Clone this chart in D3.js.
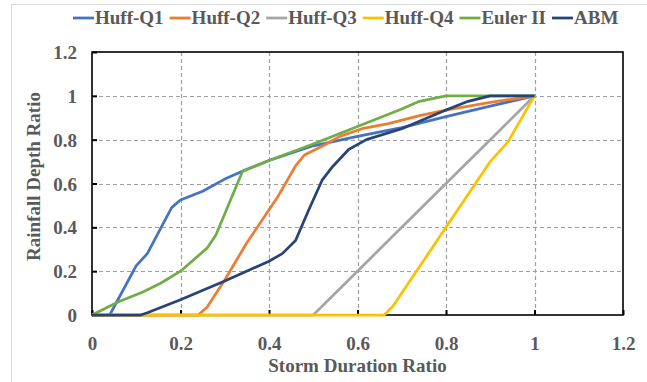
<!DOCTYPE html>
<html>
<head>
<meta charset="utf-8">
<script src="https://cdn.jsdelivr.net/npm/d3@7"></script>
<style>
  body { margin: 0; background: #fff; }
  text { font-family: "Liberation Serif", "Times New Roman", serif; font-weight: bold; fill: #595959; }
</style>
</head>
<body>
<div class="canvas"></div>
<script>
// series names + colours
const seriesNames = ['Huff-Q1', 'Huff-Q2', 'Huff-Q3', 'Huff-Q4', 'Euler II', 'ABM'];
const seriesColors = ['#4472C4', '#ED7D31', '#A5A5A5', '#FFC000', '#70AD47', '#264478'];

// values (x = storm duration ratio, y = rainfall depth ratio)
const huffQ1X = [0, 0.04, 0.1, 0.125, 0.18, 0.2, 0.25, 0.3, 0.35, 0.4, 0.5, 0.6, 0.7, 0.8, 0.9, 1.0];
const huffQ1Y = [0, 0, 0.225, 0.28, 0.49, 0.525, 0.565, 0.62, 0.665, 0.705, 0.772, 0.815, 0.855, 0.905, 0.953, 1.0];

const huffQ2X = [0, 0.24, 0.26, 0.3, 0.35, 0.4, 0.42, 0.46, 0.48, 0.52, 0.56, 0.61, 0.67, 0.74, 0.8, 0.9, 1.0];
const huffQ2Y = [0, 0, 0.035, 0.16, 0.33, 0.48, 0.54, 0.68, 0.73, 0.77, 0.815, 0.85, 0.873, 0.91, 0.935, 0.97, 1.0];

const huffQ3X = [0, 0.5, 0.6, 0.7, 0.8, 0.9, 1.0];
const huffQ3Y = [0, 0, 0.2, 0.4, 0.6, 0.8, 1.0];

const huffQ4X = [0, 0.66, 0.68, 0.8, 0.9, 0.94, 1.0];
const huffQ4Y = [0, 0, 0.04, 0.4, 0.7, 0.79, 1.0];

const eulerX = [0, 0.06, 0.115, 0.155, 0.2, 0.26, 0.28, 0.34, 0.4, 0.5, 0.6, 0.7, 0.74, 0.8, 0.9, 1.0];
const eulerY = [0, 0.06, 0.105, 0.145, 0.2, 0.305, 0.365, 0.655, 0.705, 0.78, 0.86, 0.94, 0.975, 1.0, 1.0, 1.0];

const abmX = [0, 0.11, 0.125, 0.2, 0.3, 0.4, 0.43, 0.46, 0.49, 0.52, 0.545, 0.58, 0.62, 0.7, 0.8, 0.85, 0.9, 1.0];
const abmY = [0, 0, 0.01, 0.07, 0.155, 0.245, 0.28, 0.34, 0.48, 0.615, 0.68, 0.755, 0.8, 0.85, 0.935, 0.975, 1.0, 1.0];

const xTicks = [0, 0.2, 0.4, 0.6, 0.8, 1, 1.2];
const yTicks = [0, 0.2, 0.4, 0.6, 0.8, 1, 1.2];

const allX = [huffQ1X, huffQ2X, huffQ3X, huffQ4X, eulerX, abmX];
const allY = [huffQ1Y, huffQ2Y, huffQ3Y, huffQ4Y, eulerY, abmY];
const series = seriesNames.map((name, i) => ({
	name: name,
	color: seriesColors[i],
	points: allX[i].map((x, j) => ({ x: x, y: allY[i][j] }))
}));

const width = 647;
const height = 382;

const svg = d3.select('.canvas')
	.append('svg')
	.attr('width', width)
	.attr('height', height);

// outer chart frame (runs off the bottom of the crop)
svg.append('rect')
	.attr('x', 11.5)
	.attr('y', 4.5)
	.attr('width', 640)
	.attr('height', 400)
	.attr('fill', 'none')
	.attr('stroke', '#D9D9D9')
	.attr('stroke-width', 1);

const margin = { top: 52, right: 24, bottom: 67, left: 92 };
const graphWidth = width - margin.left - margin.right;
const graphHeight = height - margin.top - margin.bottom;

const graph = svg.append('g')
	.attr('transform', `translate(${margin.left}, ${margin.top})`);

const x = d3.scaleLinear().domain([0, 1.2]).range([0, graphWidth]);
const y = d3.scaleLinear().domain([0, 1.2]).range([graphHeight, 0]);

// dashed gridlines
graph.append('g')
	.selectAll('line')
	.data(yTicks.filter(d => d > 0 && d < 1.2))
	.enter().append('line')
	.attr('x1', 0).attr('x2', graphWidth)
	.attr('y1', d => Math.round(y(d)) + 0.5).attr('y2', d => Math.round(y(d)) + 0.5)
	.attr('stroke', '#A0A0A0').attr('stroke-width', 1.2)
	.attr('stroke-dasharray', '4,3');

graph.append('g')
	.selectAll('line')
	.data(xTicks.filter(d => d > 0 && d < 1.2))
	.enter().append('line')
	.attr('y1', 0).attr('y2', graphHeight)
	.attr('x1', d => Math.round(x(d)) + 0.5).attr('x2', d => Math.round(x(d)) + 0.5)
	.attr('stroke', '#A0A0A0').attr('stroke-width', 1.2)
	.attr('stroke-dasharray', '4,3');

// axes with ticks pointing inward
const xAxis = d3.axisBottom(x).tickValues(xTicks).tickSizeInner(-5).tickSizeOuter(0)
	.tickPadding(22).tickFormat(d => d3.format('')(d));
const yAxis = d3.axisLeft(y).tickValues(yTicks).tickSizeInner(-5).tickSizeOuter(0)
	.tickPadding(15).tickFormat(d => d3.format('')(d));

const xAxisGroup = graph.append('g')
	.attr('transform', `translate(0, ${graphHeight})`)
	.call(xAxis);
const yAxisGroup = graph.append('g').call(yAxis);

[xAxisGroup, yAxisGroup].forEach(g => {
	g.select('.domain').remove();
	g.selectAll('line').attr('stroke', '#000').attr('stroke-width', 2);
	g.selectAll('text')
		.attr('fill', '#595959')
		.style('font-size', '19px')
		.style('font-family', '"Liberation Serif", serif')
		.style('font-weight', 'bold');
});
yAxisGroup.selectAll('text').attr('dy', '0.35em');

// plot frame
graph.append('rect')
	.attr('width', graphWidth)
	.attr('height', graphHeight)
	.attr('fill', 'none')
	.attr('stroke', '#000')
	.attr('stroke-width', 1.6);

// series lines
const line = d3.line()
	.x(d => x(d.x))
	.y(d => y(d.y));

graph.selectAll('path.series')
	.data(series)
	.enter().append('path')
	.attr('class', 'series')
	.attr('d', d => line(d.points))
	.attr('fill', 'none')
	.attr('stroke', d => d.color)
	.attr('stroke-width', 2.75)
	.attr('stroke-linejoin', 'round');

// axis titles
svg.append('text')
	.attr('x', margin.left + graphWidth / 2)
	.attr('y', 372)
	.attr('text-anchor', 'middle')
	.style('font-size', '19px')
	.text('Storm Duration Ratio');

svg.append('text')
	.attr('transform', `translate(40, ${margin.top + graphHeight / 2 - 7}) rotate(-90)`)
	.attr('text-anchor', 'middle')
	.style('font-size', '19px')
	.text('Rainfall Depth Ratio');

// legend on top
const legend = svg.append('g').attr('transform', 'translate(73, 24)');
let lx = 0;
series.forEach(s => {
	legend.append('line')
		.attr('x1', lx).attr('x2', lx + 21)
		.attr('y1', -6).attr('y2', -6)
		.attr('stroke', s.color)
		.attr('stroke-width', 2.75);
	const t = legend.append('text')
		.attr('x', lx + 22)
		.attr('y', 0)
		.style('font-size', '19px')
		.text(s.name);
	lx += 22 + t.node().getComputedTextLength() + 6;
});
</script>
</body>
</html>
